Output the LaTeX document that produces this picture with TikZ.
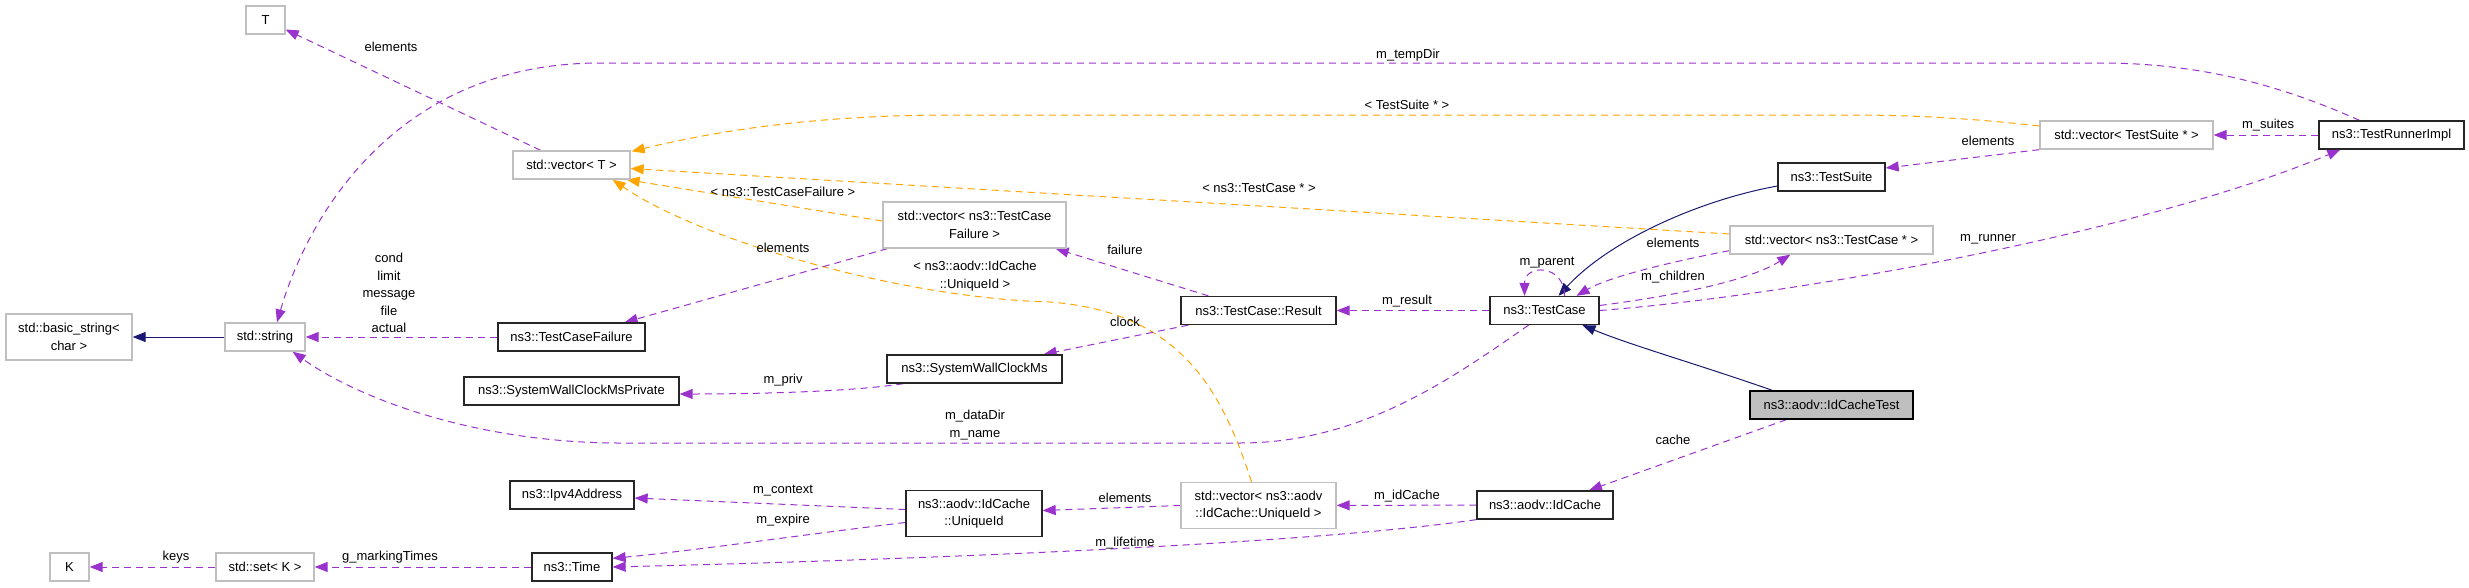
\documentclass[tikz,border=0pt]{standalone}
\usepackage{fontspec}
\setmainfont{Liberation Sans}
\usetikzlibrary{calc,arrows.meta,backgrounds,positioning}
\definecolor{memberc}{HTML}{9A32CD}
\definecolor{templc}{HTML}{FFA500}
\definecolor{inheritc}{HTML}{191970}
\definecolor{greyc}{HTML}{BFBFBF}

\begin{document}
\begin{tikzpicture}[x=1pt,y=-1pt,font=\fontsize{13}{17.5}\selectfont]

\tikzset{greynode/.style={draw=greyc,line width=1.3pt,fill=white,minimum height=28pt,inner sep=2pt,align=center},
blacknode/.style={draw=black!85,line width=1.3pt,fill=white,minimum height=28pt,inner sep=2pt,align=center},
focusnode/.style={draw=black,line width=1.3pt,fill=greyc,minimum height=28pt,inner sep=2pt},
twoline/.style={minimum height=46pt},
memberedge/.style={draw=memberc,line width=1pt,dash pattern=on 7pt off 5pt,-{Triangle[length=13pt,width=10pt]}},
templedge/.style={draw=templc,line width=1pt,dash pattern=on 7pt off 5pt,-{Triangle[length=13pt,width=10pt]}},
inheritedge/.style={draw=inheritc,line width=1pt,-{Triangle[length=13pt,width=10pt]}},
labelnode/.style={inner sep=1pt,align=center}}

\useasboundingbox (0,0) rectangle (2469,587);

% Classes
\node[greynode,minimum width=39pt] (T) at (265.5,20) {T};
\node[greynode,minimum width=117pt] (vecT) at (571.5,165) {std::vector< T >};
\node[greynode,twoline,minimum width=126pt] (basicstr) at (69,337) {std::basic\_string<\\char >};
\node[greynode,minimum width=80pt] (string) at (265,337) {std::string};
\node[blacknode,minimum width=147pt] (tcfail) at (571.5,337) {ns3::TestCaseFailure};
\node[blacknode,minimum width=215pt] (swcpriv) at (571.5,391) {ns3::SystemWallClockMsPrivate};
\node[blacknode,minimum width=124pt] (ipv4) at (572,495) {ns3::Ipv4Address};
\node[greynode,minimum width=39pt] (K) at (69.5,567) {K};
\node[greynode,minimum width=98pt] (setK) at (265,567) {std::set< K >};
\node[blacknode,minimum width=80pt] (time) at (572,567) {ns3::Time};
\node[greynode,twoline,minimum width=183pt] (vecTCF) at (974.5,225) {std::vector< ns3::TestCase\\Failure >};
\node[blacknode,minimum width=175pt] (swc) at (974.5,369) {ns3::SystemWallClockMs};
\node[blacknode,twoline,minimum width=136pt] (uid) at (974,513.5) {ns3::aodv::IdCache\\::UniqueId};
\node[blacknode,minimum width=155pt] (result) at (1258.5,310.5) {ns3::TestCase::Result};
\node[greynode,twoline,minimum width=155pt] (vecUid) at (1258.5,505.5) {std::vector< ns3::aodv\\::IdCache::UniqueId >};
\node[blacknode,minimum width=109pt] (tcase) at (1544.5,310.5) {ns3::TestCase};
\node[blacknode,minimum width=136pt] (idcache) at (1545,505) {ns3::aodv::IdCache};
\node[blacknode,minimum width=107pt] (tsuite) at (1831.5,177) {ns3::TestSuite};
\node[greynode,minimum width=203pt] (vecTC) at (1831.5,240) {std::vector< ns3::TestCase * >};
\node[focusnode,minimum width=163pt] (test) at (1831.5,405) {ns3::aodv::IdCacheTest};
\node[greynode,minimum width=173pt] (vecTS) at (2126.5,135) {std::vector< TestSuite * >};
\node[blacknode,minimum width=145pt] (runner) at (2391.5,135) {ns3::TestRunnerImpl};

\begin{scope}[on background layer]
% Inheritance
\draw[inheritedge] (string.west) -- (basicstr.east);
\draw[inheritedge] ($(tsuite.west)+(0,9)$) .. controls (1700,200) and (1610,240) .. ($(tcase.north)+(14,0)$);
\draw[inheritedge] ($(test.north west)+(23,0)$) .. controls (1700,365) and (1630,345) .. ($(tcase.south)+(38,0)$);

% Template instances
\draw[templedge] ($(vecTS.west)+(0,-9)$) .. controls (1960,117) and (1900,115) .. (1850,115) -- (950,115) .. controls (800,115) and (700,135) .. ($(vecT.north east)+(1,1)$);
\draw[templedge] (vecTC) -- (vecT);
\draw[templedge] ($(vecTCF.west)+(0,-4)$) -- ($(vecT.south east)+(-4,0)$);
\draw[templedge] ($(vecUid.north)+(-7,0)$) .. controls (1222,390) and (1180,312) .. (1050,302) .. controls (900,298) and (700,240) .. ($(vecT.south east)+(-18,0)$);

% Members
\draw[memberedge] (vecT) -- (T);
\draw[memberedge] ($(runner.north)+(-32,0)$) .. controls (2280,85) and (2200,63) .. (2100,63) -- (600,63) .. controls (390,63) and (305,225) .. ($(string.north)+(12,0)$);
\draw[memberedge] (tcfail) -- (string);
\draw[memberedge] ($(vecTCF.south west)+(5,0)$) -- ($(tcfail.north east)+(-21,0)$);
\draw[memberedge] ($(result.north west)+(28,0)$) -- ($(vecTCF.south east)+(-11,0)$);
\draw[memberedge] ($(result.south west)+(8,0)$) -- ($(swc.north east)+(-19,0)$);
\draw[memberedge] ($(swc.south west)+(17,0)$) .. controls (850,392) and (750,394) .. ($(swcpriv.east)+(0,3)$);
\draw[memberedge] ($(tcase.south)+(-16,0)$) .. controls (1450,380) and (1360,443) .. (1240,443) -- (620,443) .. controls (480,443) and (360,400) .. ($(string.south east)+(-13,0)$);
\draw[memberedge] (tcase) -- (result);
\draw[memberedge] ($(tcase.north)+(20,0)$) .. controls +(0,-32) and +(0,-32) .. ($(tcase.north)+(-20,0)$);
\draw[memberedge] ($(vecTC.south west)+(0,-4)$) .. controls (1680,260) and (1610,276) .. ($(tcase.north)+(32,0)$);
\draw[memberedge] ($(tcase.east)+(0,-5)$) .. controls (1680,295) and (1750,280) .. ($(vecTC.south west)+(61,0)$);
\draw[memberedge] (tcase.east) .. controls (1800,295) and (2150,230) .. ($(runner.south west)+(22,0)$);
\draw[memberedge] (vecTS.south west) -- ($(tsuite.east)+(0,-9)$);
\draw[memberedge] (runner) -- (vecTS);
\draw[memberedge] ($(test.south west)+(37,0)$) -- ($(idcache.north)+(44,0)$);
\draw[memberedge] (idcache) -- (vecUid);
\draw[memberedge] (idcache.south west) .. controls (1300,545) and (900,560) .. (time.east);
\draw[memberedge] (vecUid.west) -- ($(uid.east)+(0,-3)$);
\draw[memberedge] ($(uid.west)+(0,-4)$) -- ($(ipv4.east)+(0,3)$);
\draw[memberedge] ($(uid.west)+(0,9)$) .. controls (800,535) and (700,550) .. ($(time.north east)+(0,6)$);
\draw[memberedge] (time) -- (setK);
\draw[memberedge] (setK) -- (K);
\end{scope}

% Edge labels
\node[labelnode] (lelemT) at (391,47) {elements};
\node[labelnode] (ltempdir) at (1408,55) {m\_tempDir};
\node[labelnode] (ltsuite) at (1407,105) {< TestSuite * >};
\node[labelnode] (ltcase) at (1259,188) {< ns3::TestCase * >};
\node[labelnode] (ltcf) at (783,192) {< ns3::TestCaseFailure >};
\node[labelnode] (luid) at (975,276) {< ns3::aodv::IdCache\\::UniqueId >};
\node[labelnode] (lelemTCF) at (783,248) {elements};
\node[labelnode] (lfailure) at (1125,250) {failure};
\node[labelnode] (lstrings) at (389,293) {cond\\limit\\message\\file\\actual};
\node[labelnode] (lclock) at (1125,322) {clock};
\node[labelnode] (lpriv) at (783,380) {m\_priv};
\node[labelnode] (ldata) at (975,425) {m\_dataDir\\m\_name};
\node[labelnode] (lresult) at (1407,301) {m\_result};
\node[labelnode] (lparent) at (1547,263) {m\_parent};
\node[labelnode] (lelemTC) at (1673,243) {elements};
\node[labelnode] (lchildren) at (1673,277) {m\_children};
\node[labelnode] (lrunner) at (1988,239) {m\_runner};
\node[labelnode] (lelemTS) at (1988,141) {elements};
\node[labelnode] (lsuites) at (2268,125) {m\_suites};
\node[labelnode] (lcache) at (1673,440) {cache};
\node[labelnode] (lidcache) at (1407,496) {m\_idCache};
\node[labelnode] (llifetime) at (1125,543) {m\_lifetime};
\node[labelnode] (lelemUid) at (1125,498) {elements};
\node[labelnode] (lcontext) at (783,491) {m\_context};
\node[labelnode] (lexpire) at (783,520) {m\_expire};
\node[labelnode] (lmarking) at (390,557) {g\_markingTimes};
\node[labelnode] (lkeys) at (176,557) {keys};

\end{tikzpicture}
\end{document}
